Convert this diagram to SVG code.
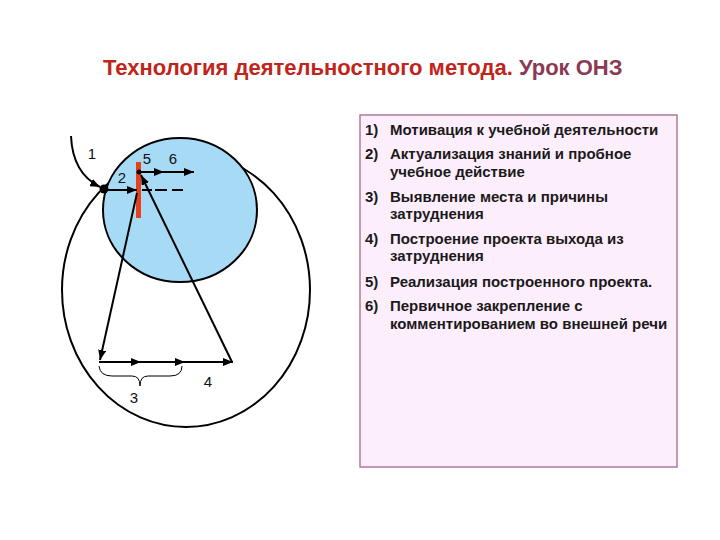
<svg xmlns="http://www.w3.org/2000/svg" width="720" height="540" viewBox="0 0 720 540">
<defs>
<style>
.ln{fill:none;stroke:#000;stroke-width:2}
.lbl{font-family:"Liberation Sans",Arial,sans-serif;font-size:15px;fill:#111;text-anchor:middle}
.lg{font-family:"Liberation Sans",Arial,sans-serif;font-size:15px;font-weight:bold;fill:#1a1a1a}
</style>
<marker id="ar" viewBox="0 0 10 8" refX="10" refY="4" markerWidth="10" markerHeight="8" markerUnits="userSpaceOnUse" orient="auto">
<path d="M0,0 L10,4 L0,8 z" fill="#000"/>
</marker>
</defs>
<rect width="720" height="540" fill="#fff"/>
<g id="title">
<text x="103" y="75" style="font-family:'Liberation Sans',Arial,sans-serif;font-size:22px;font-weight:bold"><tspan fill="#c0241a">Технология деятельностного метода.</tspan><tspan fill="#8a3a55"> Урок ОНЗ</tspan></text>
</g>
<g id="outer-circle">
<ellipse cx="186" cy="290" rx="124" ry="137" class="ln"/>
</g>
<g id="inner-circle">
<ellipse cx="180" cy="210" rx="77" ry="72" fill="#a7daf5" stroke="#000" stroke-width="2"/>
</g>
<g id="red-bar">
<rect x="136" y="162" width="5" height="56" fill="#e8401c"/>
</g>
<g id="connectors">
<path class="ln" d="M71,136 C72,160 82,178 100,187" marker-end="url(#ar)"/>
<path class="ln" d="M104,190 L137,190" marker-end="url(#ar)"/>
<path class="ln" d="M142,190 L184,190" stroke-dasharray="10 3 12 5 11"/>
<path class="ln" d="M139,172 L164,172 L194,172" marker-mid="url(#ar)" marker-end="url(#ar)"/>
<path class="ln" d="M137,193 L100,360" marker-end="url(#ar)"/>
<path class="ln" d="M99,362 L141,362 L185,362 L233,362" marker-mid="url(#ar)" marker-end="url(#ar)"/>
<path class="ln" d="M232,362 L141,175" marker-end="url(#ar)"/>
<path fill="none" stroke="#000" stroke-width="1" d="M99,366 Q100,376 112,376 L132,376 Q140,376 140,386 Q140,376 148,376 L170,376 Q182,376 182,366"/>
<circle cx="104" cy="189" r="4.5" fill="#000"/>
<circle cx="139" cy="172" r="2.5" fill="#000"/>
</g>
<g id="labels">
<text class="lbl" x="92" y="159">1</text>
<text class="lbl" x="122" y="183">2</text>
<text class="lbl" x="147" y="164">5</text>
<text class="lbl" x="173" y="164">6</text>
<text class="lbl" x="134" y="403">3</text>
<text class="lbl" x="208" y="387">4</text>
</g>
<g id="legend">
<rect x="360" y="115" width="317" height="352" fill="#fdeefc" stroke="#b07a98" stroke-width="1.5"/>
<text class="lg" y="135"><tspan x="365">1)</tspan><tspan x="390">Мотивация к учебной деятельности</tspan></text>
<text class="lg" y="159"><tspan x="365">2)</tspan><tspan x="390">Актуализация знаний и пробное</tspan></text>
<text class="lg" x="390" y="177">учебное действие</text>
<text class="lg" y="202"><tspan x="365">3)</tspan><tspan x="390">Выявление места и причины</tspan></text>
<text class="lg" x="390" y="219">затруднения</text>
<text class="lg" y="244"><tspan x="365">4)</tspan><tspan x="390">Построение проекта выхода из</tspan></text>
<text class="lg" x="390" y="261">затруднения</text>
<text class="lg" y="287"><tspan x="365">5)</tspan><tspan x="390">Реализация построенного проекта.</tspan></text>
<text class="lg" y="311"><tspan x="365">6)</tspan><tspan x="390">Первичное закрепление с</tspan></text>
<text class="lg" x="390" y="329">комментированием во внешней речи</text>
</g>
</svg>
